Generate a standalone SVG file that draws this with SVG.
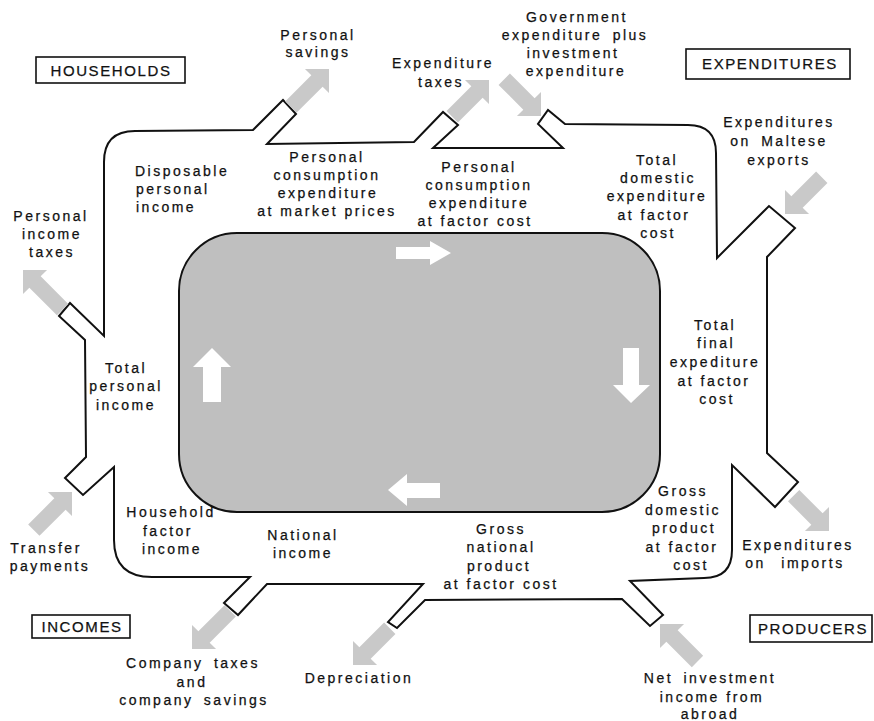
<svg xmlns="http://www.w3.org/2000/svg" width="874" height="721" viewBox="0 0 874 721">
<style>
.t{font-family:"Liberation Sans",Arial,sans-serif;font-size:14px;letter-spacing:2.5px;fill:#111;stroke:#111;stroke-width:0.25;text-anchor:middle}
.s{text-anchor:start}
.w{word-spacing:4px}
.b{font-family:"Liberation Sans",Arial,sans-serif;font-size:15px;letter-spacing:1.6px;fill:#111;stroke:#111;stroke-width:0.25;text-anchor:middle}
.box{fill:#fff;stroke:#111;stroke-width:1.6}
.pipe{fill:none;stroke:#111;stroke-width:2;stroke-linejoin:miter}
.ga{fill:#c9c9c9}
.wa{fill:#fff}
</style>
<rect width="874" height="721" fill="#fff"/>
<g id="core">
<rect x="179" y="233" width="481" height="279" rx="58" ry="58" fill="#bfbfbf" stroke="#111" stroke-width="2"/>
<path class="wa" d="M396,247 L430,247 L430,241 L451,253 L430,265 L430,259 L396,259 Z"/>
<path class="wa" d="M212,348 L231,367 L221,367 L221,402 L203,402 L203,367 L193,367 Z"/>
<path class="wa" d="M623,348 L639,348 L639,385 L650,385 L631,403 L613,385 L623,385 Z"/>
<path class="wa" d="M388,490 L407,474 L407,483 L440,483 L440,498 L407,498 L407,506 Z"/>
</g>
<g id="connectors">
<path class="pipe" d="M104,336 L104,162 Q104,131 135,131 L253,130 L283,100 L296,114 L267,144 L414,142 L443,112 L458,125 L433,148 L563,148 L538,124 L548,110 L565,124 L688,125 Q716,125 716,153 L717,258 L769,206 L795,228 L767,257 L767,453 L798,482 L775,507 L732,465 L732,550 Q732,578 704,578 L630,581 L663,615 L650,626 L622,599 L425,600 L397,628 L388,622 L423,584 L267,584 L238,615 L224,603 L250,577 L152,577 Q114,577 114,540 L114,467 L83,495 L65,478 L86,457 L85,340 L59,316 L70,303 Z"/>
<path class="ga" transform="translate(329,69) rotate(-45)" d="M0,0 L-17,-17 L-17,-8 L-54,-8 L-54,8 L-17,8 L-17,17 Z"/>
<path class="ga" transform="translate(489,80) rotate(-45)" d="M0,0 L-17,-17 L-17,-8 L-52,-8 L-52,8 L-17,8 L-17,17 Z"/>
<path class="ga" transform="translate(541,116) rotate(45)" d="M0,0 L-17,-17 L-17,-8 L-52,-8 L-52,8 L-17,8 L-17,17 Z"/>
<path class="ga" transform="translate(785,214) rotate(135)" d="M0,0 L-17,-17 L-17,-8 L-52,-8 L-52,8 L-17,8 L-17,17 Z"/>
<path class="ga" transform="translate(829,531) rotate(45)" d="M0,0 L-17,-17 L-17,-8 L-50,-8 L-50,8 L-17,8 L-17,17 Z"/>
<path class="ga" transform="translate(660,624) rotate(-135)" d="M0,0 L-17,-17 L-17,-8 L-53,-8 L-53,8 L-17,8 L-17,17 Z"/>
<path class="ga" transform="translate(353,665) rotate(135)" d="M0,0 L-17,-17 L-17,-8 L-52,-8 L-52,8 L-17,8 L-17,17 Z"/>
<path class="ga" transform="translate(192,649) rotate(135)" d="M0,0 L-17,-17 L-17,-8 L-54,-8 L-54,8 L-17,8 L-17,17 Z"/>
<path class="ga" transform="translate(72,492) rotate(-45)" d="M0,0 L-17,-17 L-17,-8 L-54,-8 L-54,8 L-17,8 L-17,17 Z"/>
<path class="ga" transform="translate(23,270) rotate(-135)" d="M0,0 L-17,-17 L-17,-8 L-56,-8 L-56,8 L-17,8 L-17,17 Z"/>
</g>
<g id="households"><rect class="box" x="36" y="57" width="149" height="26"/><text class="b" x="111" y="76">HOUSEHOLDS</text></g>
<g id="expenditures"><rect class="box" x="686" y="49" width="164" height="30"/><text class="b" x="770" y="69">EXPENDITURES</text></g>
<g id="incomes"><rect class="box" x="32" y="615" width="98" height="23"/><text class="b" x="82" y="632">INCOMES</text></g>
<g id="producers"><rect class="box" x="750" y="615" width="122" height="27"/><text class="b" x="813" y="634">PRODUCERS</text></g>
<g id="personal-savings"><text class="t" x="318" y="40">Personal</text><text class="t" x="318" y="57">savings</text></g>
<g id="expenditure-taxes"><text class="t" x="443" y="68">Expenditure</text><text class="t" x="441" y="87">taxes</text></g>
<g id="government"><text class="t" x="577" y="22">Government</text><text class="t w" x="575" y="40">expenditure plus</text><text class="t" x="573" y="58">investment</text><text class="t" x="576" y="76">expenditure</text></g>
<g id="maltese-exports"><text class="t" x="779" y="127">Expenditures</text><text class="t w" x="779" y="146">on Maltese</text><text class="t" x="779" y="165">exports</text></g>
<g id="disposable"><text class="t s" x="135" y="176">Disposable</text><text class="t s" x="136" y="194">personal</text><text class="t s" x="136" y="212">income</text></g>
<g id="pce-market"><text class="t" x="327" y="162">Personal</text><text class="t" x="327" y="180">consumption</text><text class="t" x="328" y="198">expenditure</text><text class="t" x="327" y="216">at market prices</text></g>
<g id="pce-factor"><text class="t" x="479" y="172">Personal</text><text class="t" x="479" y="190">consumption</text><text class="t" x="479" y="208">expenditure</text><text class="t" x="475" y="226">at factor cost</text></g>
<g id="total-domestic"><text class="t" x="657" y="165">Total</text><text class="t" x="658" y="183">domestic</text><text class="t" x="657" y="201">expenditure</text><text class="t" x="654" y="220">at factor</text><text class="t" x="658" y="238">cost</text></g>
<g id="total-final"><text class="t" x="715" y="330">Total</text><text class="t" x="716" y="348">final</text><text class="t" x="715" y="367">expediture</text><text class="t" x="714" y="386">at factor</text><text class="t" x="717" y="404">cost</text></g>
<g id="personal-income-taxes"><text class="t" x="51" y="221">Personal</text><text class="t" x="52" y="239">income</text><text class="t" x="52" y="257">taxes</text></g>
<g id="total-personal-income"><text class="t" x="126" y="373">Total</text><text class="t" x="126" y="391">personal</text><text class="t" x="126" y="410">income</text></g>
<g id="transfer-payments"><text class="t" x="46" y="553">Transfer</text><text class="t" x="50" y="571">payments</text></g>
<g id="household-factor-income"><text class="t" x="171" y="517">Household</text><text class="t" x="168" y="536">factor</text><text class="t" x="172" y="554">income</text></g>
<g id="national-income"><text class="t" x="303" y="540">National</text><text class="t" x="303" y="558">income</text></g>
<g id="company"><text class="t w" x="193" y="668">Company taxes</text><text class="t" x="192" y="687">and</text><text class="t w" x="194" y="705">company savings</text></g>
<g id="depreciation"><text class="t" x="359" y="683">Depreciation</text></g>
<g id="gnp"><text class="t" x="501" y="534">Gross</text><text class="t" x="501" y="552">national</text><text class="t" x="499" y="571">product</text><text class="t" x="501" y="589">at factor cost</text></g>
<g id="gdp"><text class="t" x="683" y="496">Gross</text><text class="t" x="683" y="515">domestic</text><text class="t" x="684" y="533">product</text><text class="t" x="682" y="552">at factor</text><text class="t" x="691" y="570">cost</text></g>
<g id="imports"><text class="t" x="798" y="550">Expenditures</text><text class="t" x="795" y="568" style="word-spacing:9px">on imports</text></g>
<g id="net-investment"><text class="t w" x="710" y="683">Net investment</text><text class="t" x="712" y="702">income from</text><text class="t" x="710" y="719">abroad</text></g>
</svg>
